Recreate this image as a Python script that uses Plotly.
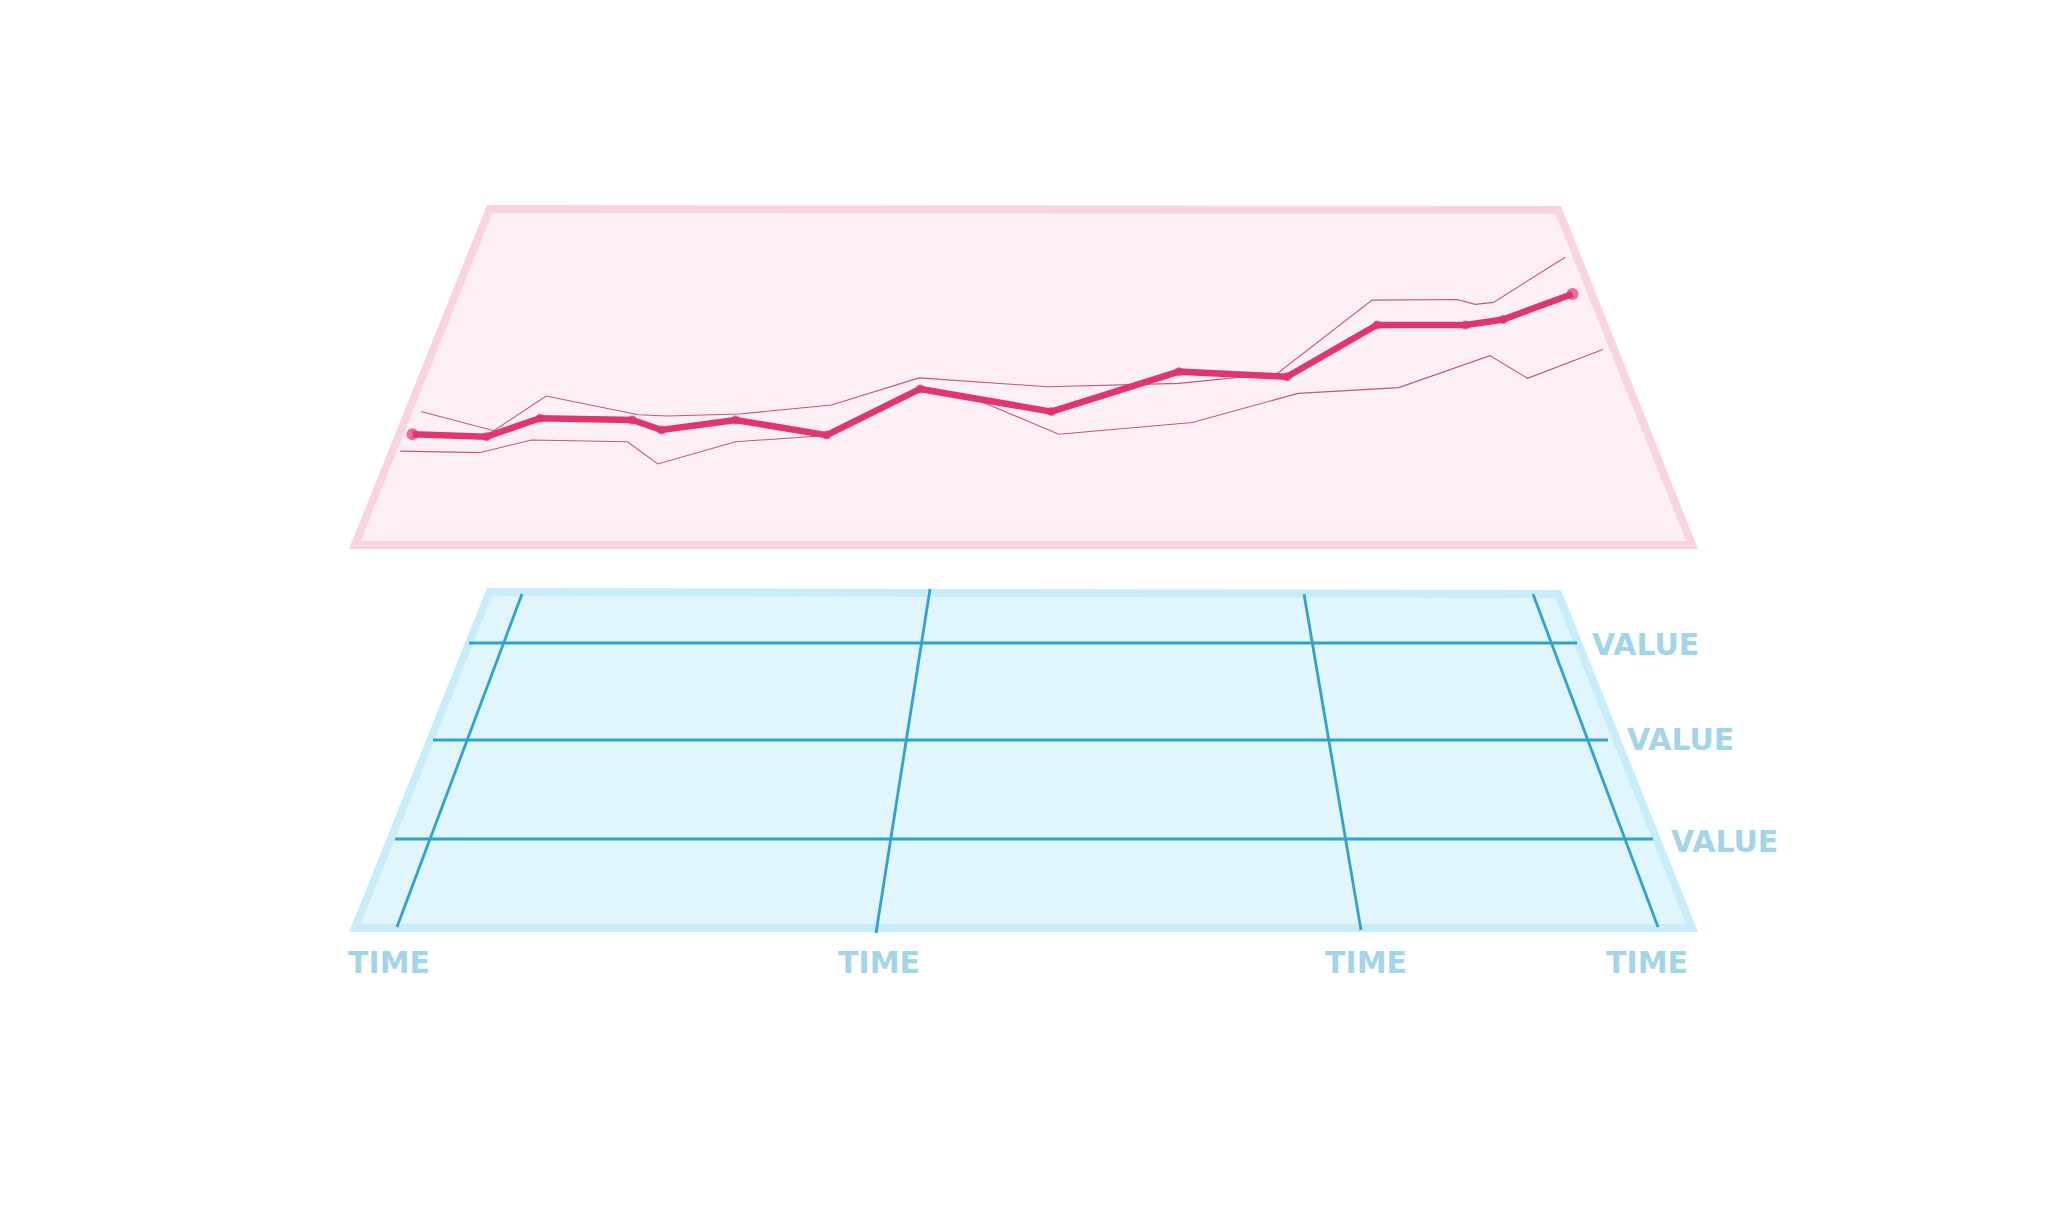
import plotly.graph_objects as go

# ---------------- data (pink chart) ----------------
time_main = [1.7, 7.8, 12.2, 19.8, 22.2, 28.3, 35.8, 43.5, 54.3, 64.8, 73.7, 81.1, 88.4, 91.5, 97.2]
value_main = [16.2, 15.1, 23.4, 22.6, 18.1, 22.6, 15.8, 36.6, 26.4, 44.4, 42.1, 65.4, 65.4, 67.9, 79.4]

time_upper = [2.4, 8.4, 12.7, 20.3, 22.7, 28.6, 36.2, 43.4, 54.0, 64.8, 72.9, 80.7, 87.7, 89.2, 90.7, 96.6]
value_upper = [26.4, 17.8, 33.4, 25.0, 24.4, 25.3, 29.4, 41.6, 37.6, 39.1, 43.6, 76.6, 76.9, 74.7, 75.6, 95.9]

time_lower = [0.7, 7.2, 11.5, 19.4, 21.9, 28.3, 35.2, 43.5, 47.2, 54.9, 65.9, 74.6, 82.9, 90.4, 93.5, 99.7]
value_lower = [8.6, 7.9, 13.6, 12.8, 2.8, 12.8, 15.4, 36.2, 34.0, 16.2, 21.5, 34.6, 37.2, 51.6, 41.4, 54.4]

time_labels = ["TIME", "TIME", "TIME", "TIME"]
value_labels = ["VALUE", "VALUE", "VALUE"]

# ---------------- layout geometry (page pixels) ----------------
W, H = 2048, 1229
OFF = 8  # browser body margin compensation
PINK_PLANE = [(487, 205), (1561, 206), (1698, 549), (349, 549)]
BLUE_PLANE = [(487, 588), (1561, 590), (1698, 932), (349, 932)]
BORDER = 8

PINK_FILL, PINK_EDGE = "#fdf0f5", "#f8d4e0"
BLUE_FILL, BLUE_EDGE = "#e1f5fc", "#c8edf8"
GRID_COLOR = "#2ea3cd"
LABEL_COLOR = "#a2d5e8"
MAIN_COLOR = "#e0356f"
THIN_COLOR = "#c55383"

# perspective grid (top point, bottom point) for each TIME line
time_grid = [((522, 594), (397, 927)), ((930, 589), (876, 933)),
             ((1304, 594), (1361, 930)), ((1533, 594), (1658, 927))]
# VALUE lines: y, x_start, x_end
value_grid = [(643, 469, 1577), (740, 433, 1608), (839, 395, 1653)]
time_label_pos = [(389, 962), (879, 962), (1366, 962), (1647, 962)]
value_label_pos = [(1590, 644), (1625, 739), (1669, 841)]

# pink chart plotting area (page pixels)
PX0, PX1 = 391.8, 1606.5
PY_TOP, PY_BOT = 248.2, 470.2


def inset(poly, d):
    cx = sum(p[0] for p in poly) / len(poly)
    cy = sum(p[1] for p in poly) / len(poly)
    lines = []
    n = len(poly)
    for i in range(n):
        (x1, y1), (x2, y2) = poly[i], poly[(i + 1) % n]
        dx, dy = x2 - x1, y2 - y1
        L = (dx * dx + dy * dy) ** 0.5
        nx, ny = -dy / L, dx / L
        mx, my = (x1 + x2) / 2, (y1 + y2) / 2
        if (cx - mx) * nx + (cy - my) * ny < 0:
            nx, ny = -nx, -ny
        lines.append(((x1 + nx * d, y1 + ny * d), (dx, dy)))
    out = []
    for i in range(n):
        (p1, d1), (p2, d2) = lines[i - 1], lines[i]
        det = d1[0] * (-d2[1]) - d1[1] * (-d2[0])
        t = ((p2[0] - p1[0]) * (-d2[1]) - (p2[1] - p1[1]) * (-d2[0])) / det
        out.append((p1[0] + d1[0] * t, p1[1] + d1[1] * t))
    return out


def path(poly):
    return "M " + " L ".join(f"{x:.1f},{y:.1f}" for x, y in poly) + " Z"


shapes = []
for outer, fill, edge in [(PINK_PLANE, PINK_FILL, PINK_EDGE), (BLUE_PLANE, BLUE_FILL, BLUE_EDGE)]:
    shapes.append(dict(type="path", path=path(outer), xref="x", yref="y",
                       fillcolor=edge, line=dict(width=0), layer="below"))
    shapes.append(dict(type="path", path=path(inset(outer, BORDER)), xref="x", yref="y",
                       fillcolor=fill, line=dict(width=0), layer="below"))

for (x0, y0), (x1, y1) in time_grid:
    shapes.append(dict(type="line", x0=x0, y0=y0, x1=x1, y1=y1, xref="x", yref="y",
                       line=dict(color=GRID_COLOR, width=2.8), layer="below"))
for y, xa, xb in value_grid:
    shapes.append(dict(type="line", x0=xa, y0=y, x1=xb, y1=y, xref="x", yref="y",
                       line=dict(color=GRID_COLOR, width=2.8), layer="below"))

annotations = []
lab_font = dict(family="DejaVu Sans", size=30, color=LABEL_COLOR, weight=700)
for txt, (x, y) in zip(time_labels, time_label_pos):
    annotations.append(dict(text=txt, x=x, y=y, xref="x", yref="y", showarrow=False,
                            xanchor="center", yanchor="middle", font=lab_font))
for txt, (x, y) in zip(value_labels, value_label_pos):
    annotations.append(dict(text=txt, x=x, y=y, xref="x", yref="y", showarrow=False,
                            xanchor="left", yanchor="middle", font=lab_font))

fig = go.Figure()
fig.add_trace(go.Scatter(x=[OFF, W], y=[OFF, H], mode="markers", marker=dict(opacity=0),
                         hoverinfo="skip", showlegend=False, xaxis="x", yaxis="y"))

fig.add_trace(go.Scatter(x=time_upper, y=value_upper, mode="lines",
                         line=dict(color=THIN_COLOR, width=1.1), xaxis="x2", yaxis="y2",
                         showlegend=False))
fig.add_trace(go.Scatter(x=time_lower, y=value_lower, mode="lines",
                         line=dict(color=THIN_COLOR, width=1.1), xaxis="x2", yaxis="y2",
                         showlegend=False))
sizes = [12 if i in (0, len(time_main) - 1) else 9 for i in range(len(time_main))]
fig.add_trace(go.Scatter(x=time_main, y=value_main, mode="lines+markers",
                         line=dict(color=MAIN_COLOR, width=6.5),
                         marker=dict(color=MAIN_COLOR, size=sizes, line=dict(width=0)),
                         xaxis="x2", yaxis="y2", showlegend=False))

hidden = dict(visible=False, showgrid=False, zeroline=False, fixedrange=True)
fig.update_layout(
    width=W, height=H,
    margin=dict(l=0, r=0, t=0, b=0),
    paper_bgcolor="white", plot_bgcolor="rgba(0,0,0,0)",
    xaxis=dict(range=[OFF, W + OFF], domain=[0, 1], **hidden),
    yaxis=dict(range=[H + OFF, OFF], domain=[0, 1], **hidden),
    xaxis2=dict(range=[0, 100], domain=[(PX0 - OFF) / W, (PX1 - OFF) / W], anchor="y2", **hidden),
    yaxis2=dict(range=[0, 100], domain=[1 - (PY_BOT - OFF) / H, 1 - (PY_TOP - OFF) / H],
                anchor="x2", **hidden),
    shapes=shapes,
    annotations=annotations,
    showlegend=False,
)

fig.write_html("out.html")
